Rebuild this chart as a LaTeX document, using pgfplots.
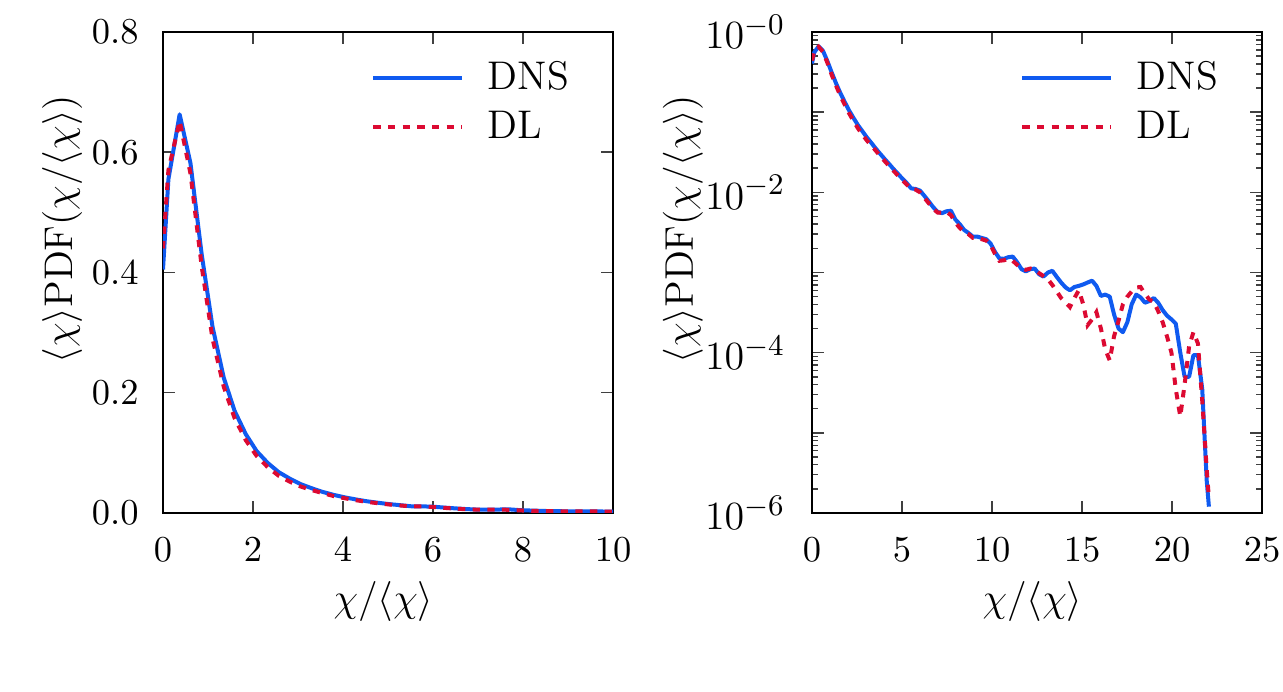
\documentclass[border=0pt]{standalone}
\usepackage{pgfplots}
\usepackage{pgfplotstable}
\pgfplotsset{compat=1.18}
\definecolor{dnsblue}{RGB}{15,90,240}
\definecolor{dlred}{RGB}{220,10,50}

\pgfplotstableread{
x y
0.00 0.405
0.12 0.555
0.37 0.663
0.61 0.582
0.86 0.43
1.10 0.31
1.35 0.225
1.59 0.170
1.84 0.131
2.08 0.103
2.33 0.083
2.57 0.068
2.82 0.057
3.06 0.048
3.31 0.041
3.55 0.035
3.80 0.030
4.04 0.026
4.29 0.0225
4.53 0.0195
4.78 0.0170
5.02 0.0148
5.27 0.0130
5.51 0.0112
5.76 0.0110
6.00 0.0105
6.25 0.0090
6.49 0.0077
6.74 0.0065
6.98 0.0057
7.23 0.0055
7.47 0.0058
7.72 0.0059
7.96 0.0046
8.21 0.0040
8.45 0.0034
8.70 0.0031
8.94 0.0028
9.19 0.0028
9.43 0.0027
9.68 0.0026
9.92 0.0023
10.17 0.0018
10.41 0.0015
10.66 0.00148
10.90 0.00155
11.15 0.00158
11.39 0.00135
11.64 0.00110
11.88 0.00103
12.13 0.00110
12.37 0.00112
12.62 0.00095
12.86 0.00089
13.11 0.00100
13.35 0.00105
13.60 0.00088
13.84 0.00075
14.09 0.00065
14.33 0.00060
14.58 0.00066
14.82 0.00068
15.07 0.00071
15.31 0.00075
15.56 0.00079
15.80 0.00068
16.05 0.00051
16.29 0.00053
16.54 0.00050
16.78 0.00030
17.03 0.00020
17.27 0.00018
17.52 0.00024
17.76 0.00040
18.01 0.00053
18.25 0.00049
18.50 0.00042
18.74 0.00044
18.99 0.00048
19.23 0.00042
19.48 0.00034
19.72 0.00029
19.97 0.00026
20.21 0.00023
20.46 0.00010
20.70 0.00005
20.95 0.00005
21.19 0.000093
21.44 0.000093
21.68 0.000035
21.93 0.0000025
22.05 0.0000012
}\dnstable

\pgfplotstableread{
x y
0.00 0.44
0.12 0.57
0.37 0.652
0.61 0.565
0.86 0.41
1.10 0.29
1.35 0.21
1.59 0.158
1.84 0.121
2.08 0.095
2.33 0.076
2.57 0.062
2.82 0.052
3.06 0.044
3.31 0.038
3.55 0.033
3.80 0.028
4.04 0.0245
4.29 0.0212
4.53 0.0185
4.78 0.0162
5.02 0.0142
5.27 0.0125
5.51 0.0110
5.76 0.0108
6.00 0.0100
6.25 0.0085
6.49 0.0073
6.74 0.0062
6.98 0.0056
7.23 0.0056
7.47 0.0057
7.72 0.0052
7.96 0.0042
8.21 0.0036
8.45 0.0032
8.70 0.0030
8.94 0.0027
9.19 0.0027
9.43 0.0026
9.68 0.0025
9.92 0.0022
10.17 0.0017
10.41 0.0014
10.66 0.00142
10.90 0.00148
11.15 0.00140
11.39 0.00125
11.64 0.00112
11.88 0.00108
12.13 0.00112
12.37 0.00108
12.62 0.00098
12.86 0.00090
13.11 0.00082
13.35 0.00070
13.60 0.00058
13.84 0.00048
14.09 0.00042
14.33 0.00037
14.58 0.00048
14.82 0.00060
15.07 0.00040
15.31 0.00022
15.56 0.00026
15.80 0.00032
16.05 0.00020
16.29 0.000110
16.54 0.000080
16.78 0.000160
17.03 0.00025
17.27 0.00040
17.52 0.00050
17.76 0.00058
18.01 0.00065
18.25 0.00066
18.50 0.00054
18.74 0.00046
18.99 0.00043
19.23 0.00033
19.48 0.00024
19.72 0.00016
19.97 0.00010
20.21 0.000035
20.46 0.000016
20.70 0.000040
20.95 0.00012
21.19 0.00018
21.44 0.00013
21.68 0.000025
21.93 0.0000035
22.05 0.0000015
}\dltable

\pgfplotsset{
  mystyle/.style={
    scale only axis, width=135pt, height=144.3pt,
    tick align=inside, major tick length=3.6pt, minor tick length=1.8pt,
    every tick/.style={black!75, line width=0.45pt},
    axis line style={line width=0.6pt},
    tick label style={font=\fontsize{11}{13}\selectfont},
    xticklabel style={inner sep=0pt, yshift=-7.3pt},
    xlabel={$\chi/\langle\chi\rangle$},
    ylabel={$\langle\chi\rangle\mathrm{PDF}(\chi/\langle\chi\rangle)$},
    xlabel style={at={(axis description cs:0.49,-0.183)}, anchor=center, inner sep=0pt, font=\fontsize{13}{15.5}\selectfont},
    ylabel style={anchor=center, inner sep=0pt, font=\fontsize{12}{14}\selectfont},
    legend style={draw=none, fill=none, at={(0.918,0.955)}, anchor=north east,
      inner sep=0pt, font=\fontsize{12}{14.5}\selectfont, row sep=1pt,
      /tikz/every odd column/.append style={column sep=5pt}},
    legend cell align=left,
    legend image code/.code={\draw[#1] (0pt,0pt) -- (26.7pt,0pt);},
    dnsline/.style={color=dnsblue, line width=1.2pt, line join=round},
    dlline/.style={color=dlred, line width=1.2pt, dash pattern=on 2.2pt off 2.2pt},
  }
}

\begin{document}
\begin{tikzpicture}
\useasboundingbox (-48.9pt,-53.7pt) rectangle (336pt,153.9pt);
\begin{axis}[mystyle, at={(0pt,0pt)}, anchor=south west,
  xmin=0, xmax=10, ymin=0, ymax=0.8,
  xtick={0,2,4,6,8,10}, ytick={0,0.2,0.4,0.6,0.8},
  ylabel style={at={(axis description cs:-0.224,0.59)}},
  yticklabel style={xshift=-3.8pt, /pgf/number format/fixed, /pgf/number format/fixed zerofill, /pgf/number format/precision=1},
]
\addplot[dnsline] table[x=x,y=y] {\dnstable};
\addlegendentry{DNS}
\addplot[dlline] table[x=x,y=y] {\dltable};
\addlegendentry{DL}
\end{axis}
\begin{axis}[mystyle, at={(194.7pt,0pt)}, anchor=south west,
  ymode=log, xmin=0, xmax=25, ymin=1e-6, ymax=1,
  ylabel style={at={(axis description cs:-0.287,0.59)}},
  xtick={0,5,10,15,20,25},
  ytick={1e-6,1e-5,1e-4,1e-3,1e-2,1e-1,1},
  yticklabels={$10^{-6}$,,$10^{-4}$,,$10^{-2}$,,$10^{-0}$},
  minor ytick={2e-6,3e-6,4e-6,5e-6,6e-6,7e-6,8e-6,9e-6,
    2e-5,3e-5,4e-5,5e-5,6e-5,7e-5,8e-5,9e-5,
    2e-4,3e-4,4e-4,5e-4,6e-4,7e-4,8e-4,9e-4,
    2e-3,3e-3,4e-3,5e-3,6e-3,7e-3,8e-3,9e-3,
    2e-2,3e-2,4e-2,5e-2,6e-2,7e-2,8e-2,9e-2,
    0.2,0.3,0.4,0.5,0.6,0.7,0.8,0.9},
  yticklabel style={xshift=-4.5pt, font=\fontsize{12.5}{15}\selectfont},
]
\addplot[dnsline] table[x=x,y=y] {\dnstable};
\addlegendentry{DNS}
\addplot[dlline] table[x=x,y=y] {\dltable};
\addlegendentry{DL}
\end{axis}
\end{tikzpicture}
\end{document}
